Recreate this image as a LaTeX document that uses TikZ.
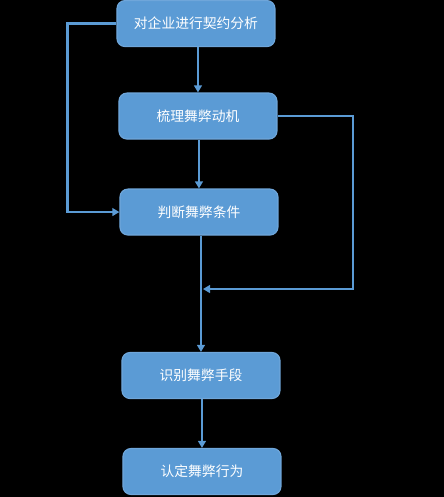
\documentclass[tikz,border=0pt]{standalone}
\usepackage{fontspec}
\setmainfont{Noto Sans CJK SC}
\usepackage{tikz}
\usetikzlibrary{arrows.meta, positioning}
\definecolor{boxblue}{HTML}{5B9BD5}
\definecolor{boxedge}{HTML}{6FA6DA}

\begin{document}
\begin{tikzpicture}[
  x=0.025cm, y=-0.025cm,
  >={Triangle[length=5pt,width=5.5pt]}, every node/.style={font=\fontsize{9.8}{12}\selectfont},
  stage/.style={draw=boxedge, line width=0.8pt, fill=boxblue, rounded corners=0.2cm, text=white,
    minimum width=3.95cm, minimum height=1.15cm, align=center},
  flow/.style={draw=boxblue, line width=1.9pt}
]
  \fill[black] (0,0) rectangle (444,497);
  \node[stage] (contract) at (196,23.5) {对企业进行契约分析};
  \node[stage] (motive) at (198,116) {梳理舞弊动机};
  \node[stage] (cond) at (199,212) {判断舞弊条件};
  \node[stage] (means) at (201,375.5) {识别舞弊手段};
  \node[stage] (act) at (202,471.5) {认定舞弊行为};
  \coordinate (join) at (203,289);
  \coordinate (rturn) at (353,289);
  \draw[flow,->] (contract.south -| motive.north) -- (motive.north);
  \draw[flow,->] (motive.south -| cond.north) -- (cond.north);
  \draw[flow,->] (cond.south -| means.north) -- (means.north);
  \draw[flow,->] (means.south -| act.north) -- (act.north);
  \draw[flow,->] (contract.west) -- ++(-49,0) |- (cond.west);
  \draw[flow,->] (motive.east) -| (rturn) -- (join);
\end{tikzpicture}
\end{document}
